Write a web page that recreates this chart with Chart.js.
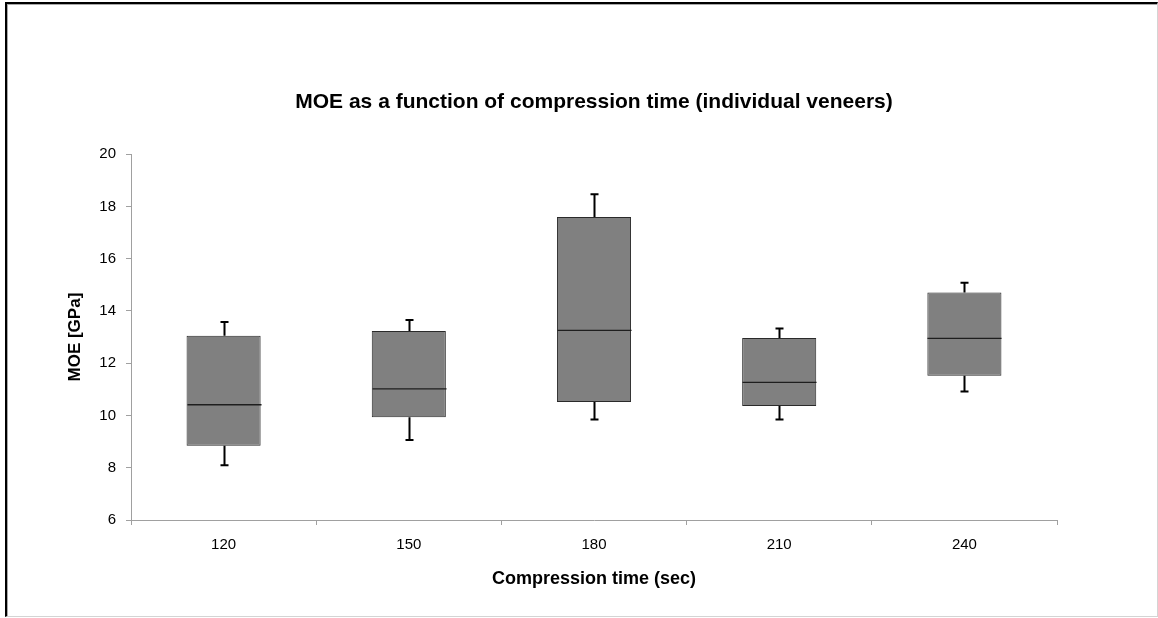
<!DOCTYPE html>
<html>
<head>
<meta charset="utf-8">
<script src="https://cdn.jsdelivr.net/npm/chart.js@4/dist/chart.umd.min.js"></script>
<style>
  html, body { margin: 0; padding: 0; background: #fff; }
  #wrap { position: relative; width: 1158px; height: 618px; overflow: hidden; }
  #frame {
    position: absolute; left: 5px; top: 2px; width: 1150px; height: 612px;
    border-top: 2px solid #000; border-left: 2px solid #000;
    border-right: 1px solid #d4d4d4; border-bottom: 1px solid #d4d4d4;
    box-shadow: inset 1px 1px 0 #a8a8a8;
  }
  #chart { position: absolute; left: 0; top: 0; }
</style>
</head>
<body>
<div id="wrap">
  <div id="frame"></div>
  <canvas id="chart" width="1158" height="618"></canvas>
</div>
<script>
// compression times (sec)
const categories = ["120", "150", "180", "210", "240"];
// box plot stats, MOE in GPa
const whiskerMin = [8.10, 9.06, 9.85, 9.85, 10.92];
const q1 = [8.84, 9.93, 10.52, 10.36, 11.52];
const median = [10.41, 11.02, 13.26, 11.27, 12.95];
const q3 = [13.05, 13.23, 17.60, 12.97, 14.71];
const whiskerMax = [13.58, 13.65, 18.47, 13.33, 15.08];

const font = "'Liberation Sans', Arial, sans-serif";

// medians and whiskers drawn on top of the floating bars
const boxExtras = {
  id: "boxExtras",
  afterDatasetsDraw(chart) {
    const ctx = chart.ctx;
    const y = chart.scales.y;
    const meta = chart.getDatasetMeta(0);
    meta.data.forEach((bar, i) => {
      const x = Math.round(bar.x) + 0.5;
      const hw = bar.width / 2;
      ctx.save();
      // median
      ctx.strokeStyle = "#1e1e1e";
      ctx.lineWidth = 1.3;
      const ym = y.getPixelForValue(median[i]);
      ctx.beginPath();
      ctx.moveTo(x - hw, ym); ctx.lineTo(x + hw, ym);
      ctx.stroke();
      // whiskers
      ctx.strokeStyle = "#000";
      ctx.lineWidth = 2;
      const cap = 4;
      [[q3[i], whiskerMax[i]], [q1[i], whiskerMin[i]]].forEach(([from, to]) => {
        const y0 = y.getPixelForValue(from), y1 = y.getPixelForValue(to);
        ctx.beginPath();
        ctx.moveTo(x, y0); ctx.lineTo(x, y1);
        ctx.moveTo(x - cap, y1); ctx.lineTo(x + cap, y1);
        ctx.stroke();
      });
      ctx.restore();
    });
  }
};

new Chart(document.getElementById("chart"), {
  type: "bar",
  data: {
    labels: categories,
    datasets: [{
      label: "MOE",
      data: q1.map((v, i) => [v, q3[i]]),
      backgroundColor: "#808080",
      borderColor: "#2a2a2a",
      borderWidth: 1,
      borderSkipped: false,
      categoryPercentage: 1,
      barPercentage: 0.4
    }]
  },
  options: {
    responsive: false,
    animation: false,
    layout: { padding: { left: 55, right: 101, top: 0, bottom: 0 } },
    plugins: {
      legend: { display: false },
      tooltip: { enabled: false },
      title: {
        display: true,
        fullSize: false,
        text: "MOE as a function of compression time (individual veneers)",
        color: "#000",
        font: { family: font, size: 21, weight: "bold" },
        padding: { top: 90, bottom: 39 }
      }
    },
    scales: {
      x: {
        afterFit: s => { s.height = 98; },
        grid: { offset: true, drawOnChartArea: false, tickLength: 5, color: "#a0a0a0" },
        border: { color: "#a0a0a0" },
        ticks: { color: "#000", padding: 11, font: { family: font, size: 15 } },
        title: {
          display: true, text: "Compression time (sec)", color: "#000",
          font: { family: font, size: 18, weight: "bold" },
          padding: { top: 0, bottom: 28 }
        }
      },
      y: {
        min: 6, max: 20,
        afterFit: s => { s.width = 76; },
        grid: { drawOnChartArea: false, tickLength: 5, color: "#a0a0a0" },
        border: { color: "#a0a0a0" },
        ticks: { stepSize: 2, color: "#000", padding: 10, font: { family: font, size: 15 } },
        title: {
          display: true, text: "MOE [GPa]", color: "#000",
          font: { family: font, size: 17, weight: "bold" },
          padding: { top: 10, bottom: 0 }
        }
      }
    }
  },
  plugins: [boxExtras]
});
</script>
</body>
</html>
